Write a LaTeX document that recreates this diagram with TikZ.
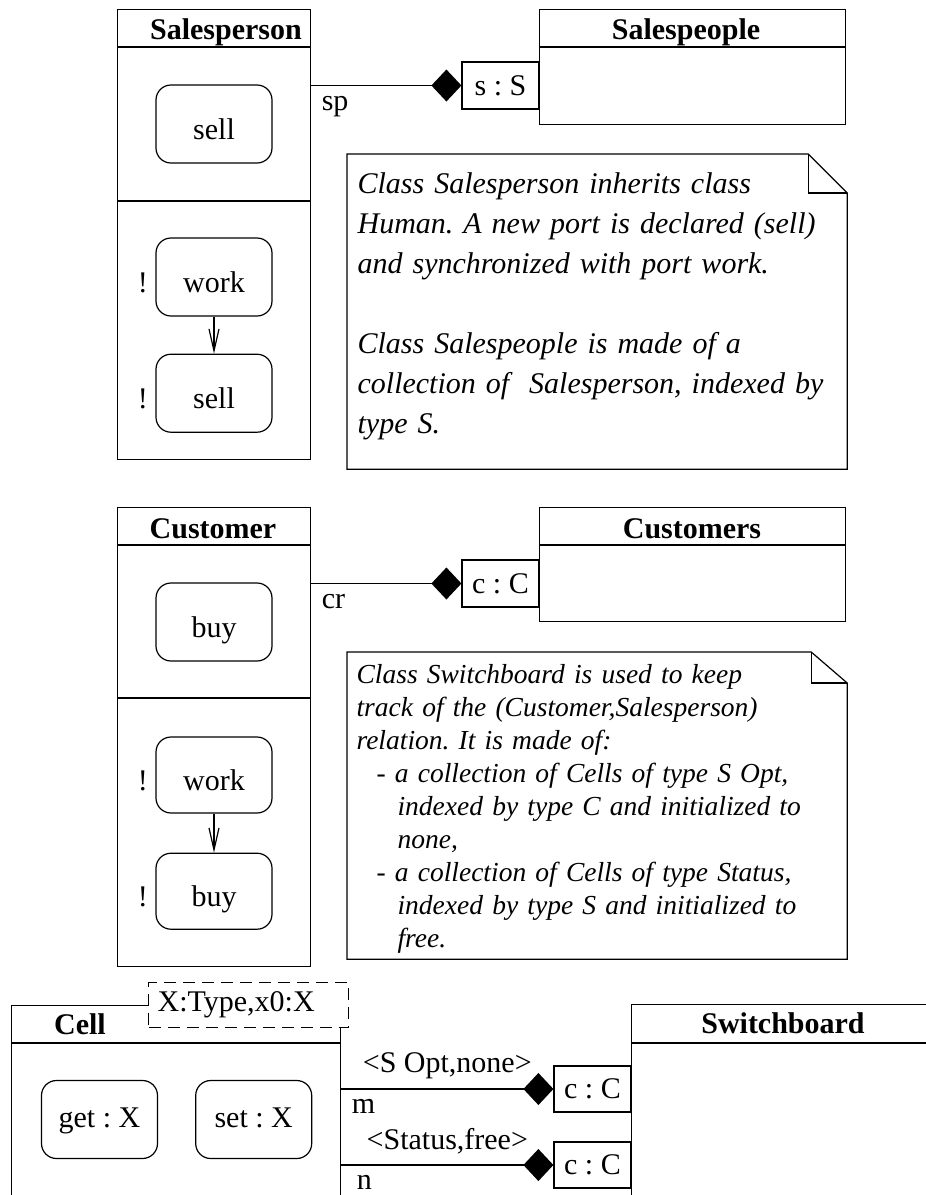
\documentclass[tikz,border=0pt]{standalone}
\usepackage{fontspec}
\setmainfont{Liberation Serif}
\usetikzlibrary{calc,positioning,arrows.meta}
\newcommand{\hdrline}[2]{\draw ($(#1.north west)+(0,#2)$) -- ($(#1.north east)+(0,#2)$);}
\newcommand{\notebox}[3]{%
  \draw (#1.north west) -- ($(#1.north east)+(-#2,0)$) -- ($(#1.north east)+(0,#3)$)
    -- (#1.south east) -- (#1.south west) -- cycle;
  \draw ($(#1.north east)+(-#2,0)$) |- ($(#1.north east)+(0,#3)$);}

\begin{document}
\frenchspacing
\begin{tikzpicture}[x=1pt,y=-1pt,line width=1.2pt,
  font=\fontsize{30}{40}\selectfont,node distance=37pt,
  box/.style={draw,anchor=north west,inner sep=0pt},
  title/.style={anchor=base,font=\fontsize{30}{40}\selectfont\bfseries},
  state/.style={draw,rounded corners=15pt,minimum width=116pt,minimum height=78pt,
    inner sep=0pt,text height=30pt,text depth=0pt},
  op/.style={state,text height=15pt},
  port/.style={draw,minimum width=77pt,minimum height=47pt,inner sep=0pt},
  tag/.style={inner sep=10pt},
  excl/.style={label={[tag,text height=30pt,text depth=0pt,label distance=-3pt]left:!}},
  comp/.style={-{Diamond[length=30pt,width=32pt]}},
  seq/.style={-{Straight Barb[length=22pt,width=10pt]}},
  note/.style={anchor=north west,minimum width=499pt,inner sep=0pt},
  notetext/.style={anchor=base west,text width=470pt,align=left,inner sep=10pt}]
  \useasboundingbox (0,0) rectangle (926,1195);
  \clip (0,0) rectangle (926,1195);

  % Salesperson / Salespeople
  \node[box,minimum width=193pt,minimum height=450pt] (salesperson) at (117,9) {};
  \hdrline{salesperson}{38}
  \hdrline{salesperson}{192}
  \node[title] at (226,39) {Salesperson};
  \node[state] (sell) at (214,124) {sell};
  \node[state,excl] (work) at (214,277) {work};
  \node[state,excl,below=of work] (sellx) {sell};
  \draw[seq] (work) -- (sellx);

  \node[box,minimum width=306pt,minimum height=115pt] (salespeople) at (539,9) {};
  \hdrline{salespeople}{38}
  \node[title] at (686,39) {Salespeople};
  \node[port] (sport) at (500.5,85.5) {s : S};
  \draw[comp] (salesperson.east |- sport) -- node[tag,pos=0,below right]{sp} (sport);

  \node[note,minimum height=314pt] (notesp) at (347,154) {};
  \notebox{notesp}{39}{39}
  \node[notetext,font=\fontsize{30}{40}\selectfont\itshape] (notesptext) at (347,193)
    {Class Salesperson inherits class\\
     Human. A new port is declared (sell)\\
     and synchronized with port work.\\[40pt]
     Class Salespeople is made of a\\
     collection of \ Salesperson, indexed by\\
     type S.};

  % Customer / Customers
  \node[box,minimum width=193pt,minimum height=459pt] (customer) at (117,507) {};
  \hdrline{customer}{38}
  \hdrline{customer}{191}
  \node[title] at (213,538) {Customer};
  \node[state] (buy) at (214,622) {buy};
  \node[state,excl,minimum height=76pt] (workc) at (214,775) {work};
  \node[state,excl,minimum height=76pt,below=39pt of workc] (buyx) {buy};
  \draw[seq] (workc) -- (buyx);

  \node[box,minimum width=306pt,minimum height=114pt] (customers) at (539,507) {};
  \hdrline{customers}{38}
  \node[title] at (692,538) {Customers};
  \node[port] (cport) at (500.5,583.5) {c : C};
  \draw[comp] (customer.east |- cport) -- node[tag,pos=0,below right]{cr} (cport);

  \node[note,minimum height=306pt] (notesw) at (347,652) {};
  \notebox{notesw}{36}{31}
  \node[notetext,font=\fontsize{27.5}{33}\selectfont\itshape] (noteswtext) at (346,683)
    {Class Switchboard is used to keep\\
     track of the (Customer,Salesperson)\\
     relation. It is made of:\\
     \hspace*{20pt}- a collection of Cells of type S Opt,\\
     \hspace*{41pt}indexed by type C and initialized to\\
     \hspace*{41pt}none,\\
     \hspace*{20pt}- a collection of Cells of type Status,\\
     \hspace*{41pt}indexed by type S and initialized to\\
     \hspace*{41pt}free.};

  % Cell / Switchboard
  \node[box,minimum width=329pt,minimum height=300pt] (cell) at (11,1005) {};
  \hdrline{cell}{38}
  \node[title] at (80,1034) {Cell};
  \node[draw,dash pattern=on 12pt off 7pt,fill=white,anchor=north west,minimum height=45pt,
    text width=182pt,inner xsep=9pt,align=left] (cellparam) at (148,982) {X:Type,x0:X};
  \node[op] (get) at (99.5,1119.5) {get : X};
  \node[op,right=of get] (set) {set : X};

  \node[box,minimum width=310pt,minimum height=300pt] (switchboard) at (631,1004) {};
  \hdrline{switchboard}{39}
  \node[title] at (783,1033) {Switchboard};
  \node[port,minimum height=46pt] (cport1) at (592.5,1089) {c : C};
  \node[port,minimum height=46pt] (cport2) at (592.5,1165) {c : C};
  \draw[comp] (cell.east |- cport1) -- node[tag,above]{<S Opt,none>}
    node[tag,pos=0,below right]{m} (cport1);
  \draw[comp] (cell.east |- cport2) -- node[tag,above]{<Status,free>}
    node[tag,pos=0,below right,xshift=5pt]{n} (cport2);
\end{tikzpicture}
\end{document}
